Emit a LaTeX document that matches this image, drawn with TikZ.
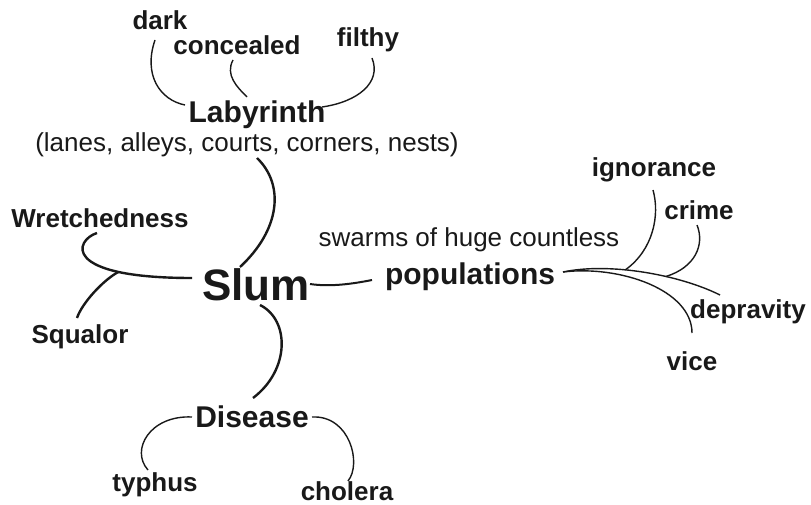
\documentclass[tikz,border=0pt]{standalone}
\usepackage{fontspec}
\setmainfont{Liberation Sans}
\begin{document}
\begin{tikzpicture}[x=1pt,y=-1pt]
  \useasboundingbox (0,0) rectangle (811,505);

  % words
  \begin{scope}[every node/.style={anchor=base, inner sep=0pt, text=black!90}]
    \node[font=\fontsize{44}{50}\selectfont\bfseries] (slum) at (256,300) {Slum};

    \begin{scope}[every node/.append style={font=\fontsize{30}{34}\selectfont\bfseries}]
      \node (lab) at (257,123) {Labyrinth};
      \node (pop) at (470,284) {populations};
      \node (dis) at (252,427) {Disease};
    \end{scope}

    \begin{scope}[every node/.append style={font=\fontsize{26}{30}\selectfont\bfseries}]
      \node (dark)   at (160,30)  {dark};
      \node (conc)   at (237,55)  {concealed};
      \node (filthy) at (368,47)  {filthy};
      \node (wret)   at (100,228) {Wretchedness};
      \node (squal)  at (80,343)  {Squalor};
      \node (ign)    at (654,177) {ignorance};
      \node (crime)  at (699,219) {crime};
      \node (dep)    at (748,318) {depravity};
      \node (vice)   at (692,370) {vice};
      \node (typh)   at (155,491) {typhus};
      \node (chol)   at (347,500) {cholera};
    \end{scope}

    \begin{scope}[every node/.append style={font=\fontsize{26}{30}\selectfont}]
      \node (lanes)  at (247,152) {(lanes, alleys, courts, corners, nests)};
      \node (swarms) at (469,247) {swarms of huge countless};
    \end{scope}
  \end{scope}

  % main branches
  \begin{scope}[draw=black!90, line width=2.4pt]
    \draw ([shift={(10,6)}]lanes.base) .. controls +(28,27) and +(40,-37) .. ([shift={(-16,-33)}]slum.base);
    \draw ([shift={(4,5)}]slum.base) .. controls +(30,15) and +(37,-28) .. ([shift={(1,-29)}]dis.base);
    \draw ([shift={(-64,-22)}]slum.base) .. controls +(-132,0) and +(-22,7) .. ([shift={(-3,5)}]wret.base)
      coordinate[pos=0.25] (sq);
    \draw (sq) .. controls +(-15,8) and +(5,-15) .. ([shift={(-3,-25)}]squal.base);
    \draw[line width=2pt] ([shift={(54,-16)}]slum.base) .. controls +(20,3) and +(-20,4) .. ([shift={(-98,-4)}]pop.base);
  \end{scope}

  % twigs
  \begin{scope}[draw=black!90, line width=1.4pt]
    \draw ([shift={(-5,10)}]dark.base) .. controls +(-12,35) and +(-25,-5) .. ([shift={(-72,-18)}]lab.base);
    \draw ([shift={(-4,5)}]conc.base) .. controls +(-8,15) and +(-10,-10) .. ([shift={(-10,-26)}]lab.base);
    \draw ([shift={(4,11)}]filthy.base) .. controls +(10,25) and +(35,-5) .. ([shift={(65,-16)}]lab.base);

    \draw ([shift={(93,-12)}]pop.base) .. controls +(47,-10) and +(-40,-20) .. ([shift={(-28,-23)}]dep.base)
      coordinate[pos=0.39] (ig) coordinate[pos=0.63] (cr);
    \draw ([shift={(93,-12)}]pop.base) .. controls +(57,-7) and +(0,-43) .. ([shift={(0,-37)}]vice.base);
    \draw (ig) .. controls +(28,-20) and +(7,25) .. ([shift={(-1,13)}]ign.base);
    \draw (cr) .. controls +(29,-9) and +(8,20) .. ([shift={(-2,6)}]crime.base);

    \draw ([shift={(-60,-10)}]dis.base) .. controls +(-42,-2) and +(-18,-20) .. ([shift={(-7,-21)}]typh.base);
    \draw ([shift={(60,-10)}]dis.base) .. controls +(38,-2) and +(14,-17) .. ([shift={(1,-19)}]chol.base);
  \end{scope}

\end{tikzpicture}
\end{document}
